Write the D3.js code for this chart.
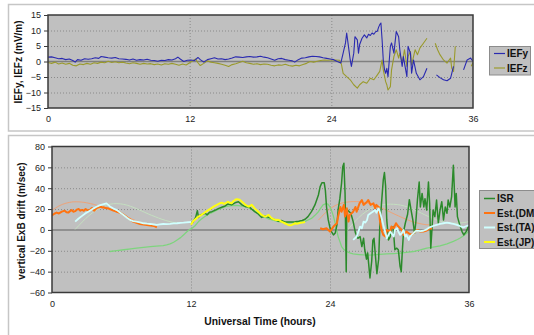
<!DOCTYPE html>
<html><head><meta charset="utf-8">
<script src="https://cdn.jsdelivr.net/npm/d3@7"></script>
<style>
html,body{margin:0;padding:0;background:#fff;}
svg{display:block;font-family:"Liberation Sans",Arial,sans-serif;}
</style></head>
<body><svg id="c" width="534" height="335"></svg>
<script>
// ---------- DATA ----------
const xTicks = [0, 12, 24, 36];
const topYTicks = [-15, -10, -5, 0, 5, 10, 15];
const botYTicks = [-60, -40, -20, 0, 20, 40, 60, 80];
const topSeriesNames = ["IEFy", "IEFz"];
const botSeriesNames = ["ISR", "Est.(DM)", "Est.(TA)", "Est.(JP)"];

// [hour, value]; null value = data gap
const IEFy = [[0,1.4],[0.3,1.5],[0.6,1.2],[0.9,0.9],[1.2,1.0],[1.5,0.6],[1.8,0.8],[2.1,0.3],[2.3,-0.2],[2.5,0.6],[2.8,0.4],[3.1,0.9],[3.4,0.7],[3.7,0.9],[4.0,1.2],[4.3,1.0],[4.5,1.6],[4.8,1.4],[5.1,1.2],[5.4,1.1],[5.7,1.3],[6.0,0.9],[6.3,0.8],[6.6,0.7],[6.9,0.5],[7.2,0.8],[7.5,0.4],[7.8,0.6],[8.1,0.5],[8.4,0.7],[8.7,0.4],[9.0,0.3],[9.3,0.1],[9.6,0.4],[9.9,0.3],[10.2,0.6],[10.5,0.5],[10.8,0.9],[11.0,1.4],[11.2,0.8],[11.5,0.0],[11.8,0.4],[12.1,0.5],[12.4,0.3],[12.7,1.3],[12.9,0.6],[13.2,-0.2],[13.5,0.6],[13.8,0.9],[14.1,1.2],[14.4,0.8],[14.7,0.9],[15.0,0.6],[15.3,0.8],[15.6,1.1],[15.9,1.5],[16.2,1.4],[16.5,1.3],[16.8,1.5],[17.1,1.6],[17.4,1.4],[17.7,1.5],[18.0,1.7],[18.3,1.4],[18.6,1.2],[18.9,0.8],[19.2,0.4],[19.5,0.9],[19.8,1.0],[20.1,0.6],[20.4,0.4],[20.7,0.2],[20.9,-0.2],[21.2,0.6],[21.5,1.1],[21.8,1.2],[22.1,1.5],[22.4,1.7],[22.7,1.6],[23.0,1.5],[23.3,1.2],[23.6,1.0],[23.9,0.8],
[24.2,0.6],[24.5,0.0],[24.8,-0.5],[25.0,2.7],[25.2,6.0],[25.3,9.2],[25.45,4.9],[25.6,0.5],[25.7,-1.6],[25.9,2.7],[26.0,8.0],[26.2,7.0],[26.3,2.7],[26.4,5.5],[26.6,7.5],[26.8,8.6],[27.0,7.6],[27.15,8.8],[27.3,8.4],[27.45,9.2],[27.6,8.8],[27.75,9.6],[27.9,9.8],[28.0,11.0],[28.1,11.9],[28.2,12.4],[28.3,7.0],[28.4,0.5],[28.5,-2.5],[28.6,-3.8],[28.7,-2.2],[28.8,-4.9],[29.0,4.9],[29.1,6.0],[29.3,2.7],[29.5,9.7],[29.7,8.0],[29.8,3.8],[30.0,-1.6],[30.1,1.6],[30.4,-4.9],[30.5,4.9],[30.7,2.7],[30.8,-3.8],[30.96,0.5],[31.2,-3.8],[31.5,-5.9],[31.8,-4.9],[32.1,-2.2],[32.2,null],[32.9,-4.3],[33.2,-5.2],[33.5,-5.9],[33.8,-6.2],[34.1,-5.4],[34.35,-1.6],[34.4,null],[35.2,-2.7],[35.5,0.5],[35.8,1.1],[36.0,0.0]];

const IEFz = [[0,-0.3],[0.3,-0.6],[0.6,-0.2],[0.9,-0.8],[1.2,-0.5],[1.5,-0.9],[1.8,-0.6],[2.1,-1.2],[2.4,-1.4],[2.7,-0.8],[3.0,-1.0],[3.3,-0.6],[3.6,-0.9],[3.9,-0.4],[4.2,-0.6],[4.5,-0.2],[4.8,-0.4],[5.1,0.1],[5.4,-0.3],[5.7,-0.1],[6.0,-0.4],[6.3,-0.2],[6.6,-0.5],[6.9,-0.7],[7.2,-0.4],[7.5,-0.6],[7.8,-0.9],[8.1,-0.6],[8.4,-0.8],[8.7,-0.7],[9.0,-1.0],[9.3,-0.8],[9.6,-1.1],[9.9,-0.7],[10.2,-0.9],[10.5,-0.6],[10.8,-0.9],[11.1,-1.2],[11.4,-0.8],[11.7,-1.1],[12.0,-0.4],[12.3,0.3],[12.5,0.8],[12.7,-0.4],[12.9,-1.3],[13.2,-0.6],[13.5,0.2],[13.8,-0.2],[14.1,-0.4],[14.4,-0.6],[14.7,-0.9],[15.0,-1.2],[15.3,-1.6],[15.6,-1.0],[15.9,-0.7],[16.2,-0.3],[16.5,0.1],[16.8,-0.4],[17.1,-0.6],[17.4,-0.9],[17.7,-0.7],[18.0,-1.0],[18.3,-0.8],[18.6,-0.9],[18.9,-1.2],[19.2,-1.4],[19.5,-1.1],[19.8,-1.2],[20.1,-0.9],[20.4,-1.3],[20.7,-1.5],[21.0,-1.2],[21.3,-1.4],[21.6,-1.0],[21.9,-0.6],[22.2,0.0],[22.5,-0.2],[22.8,0.1],[23.1,0.3],[23.4,0.5],[23.7,0.4],[24.0,0.5],
[24.3,0.5],[24.7,0.4],[24.85,-0.8],[25.0,-3.8],[25.3,-4.9],[25.6,-5.9],[25.9,-7.5],[26.2,-8.6],[26.4,-7.5],[26.7,-6.5],[27.0,-7.0],[27.3,-5.4],[27.6,-5.9],[27.9,-4.3],[28.1,-3.2],[28.3,0.5],[28.4,-2.7],[28.6,-6.5],[28.7,-7.5],[28.8,-9.2],[29.0,-8.1],[29.1,-2.7],[29.3,1.6],[29.5,3.8],[29.7,1.1],[29.8,2.7],[30.0,-0.5],[30.2,3.8],[30.4,-1.6],[30.5,1.6],[30.7,3.2],[30.8,-1.1],[31.1,3.8],[31.3,2.2],[31.5,4.3],[31.8,5.9],[32.1,7.5],[32.2,null],[32.8,5.9],[33.0,3.8],[33.2,2.2],[33.5,0.5],[33.8,-0.5],[34.1,1.1],[34.2,-2.2],[34.35,-3.2],[34.5,4.9],[34.55,null],[35.85,-1.5],[36.0,-0.3]];

const ISR = [[12.1,6.4],[12.4,12],[12.55,18.5],[12.65,12],[12.8,14.4],[13.0,15],[13.2,16],[13.4,14.5],[13.6,17],[13.8,17.5],[14.1,19],[14.4,20.7],[14.7,22],[14.95,23],[15.2,24.9],[15.5,24],[15.8,26],[16.1,27],[16.4,24],[16.7,22.3],[17.0,22.3],[17.25,19.8],[17.5,17.5],[17.8,15.3],[18.1,12],[18.4,13.4],[18.7,12],[19.0,10.8],[19.3,9.6],[19.55,8.3],[19.8,9],[20.1,7.7],[20.4,7.5],[20.7,7.7],[21.0,7.8],[21.3,8.3],[21.6,9],[21.85,10.2],[22.1,12.8],[22.4,17.5],[22.7,24],[23.0,33.5],[23.15,41.5],[23.3,45.3],[23.5,45.3],[23.6,38],[23.7,22],[23.85,9.6],[24.0,2],[24.15,-2],[24.3,-4.8],[24.45,-3],[24.6,4.8],[24.7,19],[24.85,30],[25.0,45],[25.1,60.6],[25.2,64],[25.3,35],[25.35,0],[25.4,-40],[25.45,20],[25.6,18],[25.8,16],[26.0,8],[26.2,-3],[26.4,-8],[26.6,-6.4],[26.75,-16],[26.9,-8],[27.0,-19],[27.15,-28],[27.25,-22],[27.45,-46],[27.6,-30],[27.7,-10],[27.8,-8],[27.9,-22],[28.05,-42],[28.2,-28],[28.3,3],[28.45,26],[28.6,48],[28.7,55],[28.8,42],[28.9,9.6],[29.05,-9.6],[29.2,-6.4],[29.3,1.6],[29.45,3.2],[29.6,-19],[29.75,-17.5],[29.9,-19],[30.05,-35],[30.15,-40],[30.25,-19],[30.35,-1.6],[30.5,6.4],[30.7,15],[30.85,29],[31.0,19],[31.15,9.6],[31.3,-3.2],[31.4,6.4],[31.55,29],[31.7,46],[31.8,22],[31.95,35],[32.1,22],[32.2,30],[32.35,19],[32.5,46],[32.6,25.5],[32.7,-17.5],[32.8,0],[32.9,19],[33.05,12.8],[33.2,28.7],[33.35,6.4],[33.5,19],[33.65,27],[33.8,9.6],[33.95,22],[34.1,16],[34.2,28.7],[34.35,22],[34.5,32],[34.65,62],[34.8,22],[34.9,35],[35.0,12.8],[35.2,4.8],[35.4,-1.6],[35.55,-4.8],[35.75,-1.6],[35.95,3.2],[36.0,3]];

const DM = [[0.0,14],[0.2,15.5],[0.4,16.6],[0.6,15.8],[0.85,17.5],[1.1,18.5],[1.25,17],[1.4,16.6],[1.55,18],[1.7,19],[1.85,17.5],[2.0,18],[2.15,19.5],[2.3,20],[2.45,18.5],[2.6,19.2],[2.75,18.4],[2.9,20],[3.05,19],[3.15,18.4],[3.3,19.5],[3.45,21],[3.55,19.5],[3.65,18.5],[3.8,20.5],[3.9,21.2],[4.05,21.8],[4.2,22.3],[4.35,21.5],[4.45,21.8],[4.6,21],[4.75,20.8],[4.9,20.5],[5.0,20],[5.15,19.2],[5.3,18.5],[5.45,18],[5.6,17.5],[5.75,17],[5.9,16.5],[6.05,15.5],[6.2,14.4],[6.4,12.8],[6.6,11],[6.8,9.6],[7.0,8],[7.3,6.8],[7.6,5.7],[7.9,5.2],[8.2,4.8],[8.5,4.2],[8.8,3.8],[9.05,2.5],[9.1,null],
[23.15,1.6],[23.4,0.6],[23.7,1.6],[24.0,-1.6],[24.3,3.2],[24.6,6.4],[24.7,12.8],[24.9,22],[25.0,17.5],[25.2,24],[25.3,12.8],[25.45,20.7],[25.6,8],[25.7,14.4],[26.0,17.5],[26.2,22],[26.3,17.5],[26.55,25.5],[26.75,28.7],[26.9,24],[27.2,27],[27.3,28.7],[27.5,24],[27.75,25.5],[27.9,20.7],[28.0,24],[28.2,22],[28.3,9.6],[28.45,0],[28.6,-4.8],[28.8,-6.4],[28.9,0],[29.2,-1.6],[29.3,3.2],[29.5,1.6],[29.7,6.4],[29.9,3.2],[30.05,1.6],[30.2,0],[30.35,-4.8],[30.6,-1.6],[30.8,-3.2],[31.05,-4.8],[31.35,-1.6],[31.55,0],[31.8,-1.6],[32.05,-1.6],[32.35,-0.6],[32.6,1.6],[32.8,1]];

const TA = [[2.0,8],[2.3,11],[2.6,13.5],[2.9,16],[3.2,18],[3.5,20],[3.8,22],[4.1,23.5],[4.4,24.5],[4.7,25.5],[4.85,24],[5.0,22.5],[5.3,20.5],[5.6,19],[5.9,16.5],[6.2,14],[6.5,11.5],[6.75,9.6],[7.0,8.5],[7.3,8],[7.6,7.2],[7.9,6.4],[8.2,6],[8.5,5.7],[8.8,5.2],[9.05,4.8],[9.3,5.3],[9.6,5.7],[9.9,5.5],[10.2,5.8],[10.5,6.2],[10.8,6.4],[11.1,6.8],[11.35,7],[11.6,7.3],[11.9,7.6],[12.0,7.8],[12.05,null],
[26.0,-9.6],[26.3,-6.4],[26.6,3.2],[26.75,1.6],[26.9,8],[27.05,7],[27.2,9.6],[27.3,14.4],[27.5,16],[27.7,17.5],[27.9,19],[28.0,16.5],[28.2,20.7],[28.3,17.5],[28.5,9.6],[28.6,4.8],[28.8,-3.2],[28.9,-8],[29.05,-4.8],[29.2,-1.6],[29.3,-3.2],[29.5,-6.4],[29.6,0],[29.8,1.6],[29.9,-1.6],[30.05,-4.8],[30.2,-3.2],[30.35,0],[30.5,-6.4],[30.6,-4.8],[30.8,-9.6],[30.9,-6.4],[31.15,-3.8],[31.35,-1.6],[31.5,-0.6],[31.8,-1.2],[32.05,-0.8],[32.35,0.6],[32.6,2.5],[32.9,3.8],[33.2,4.8],[33.5,5.7],[33.8,6.4],[34.1,7],[34.4,6.4],[34.65,5.7],[34.95,4.8],[35.2,3.8],[35.5,2.5],[35.8,3.8],[36.0,4.5]];

const JP = [[12.0,5],[12.2,8.5],[12.4,10.5],[12.65,12.8],[12.9,14.5],[13.1,16],[13.3,17.5],[13.5,19],[13.7,20.5],[13.95,22.3],[14.2,23.8],[14.4,25],[14.55,25.8],[14.7,26],[14.85,25],[14.95,25.5],[15.1,26.5],[15.2,27],[15.35,26],[15.5,25.5],[15.65,27.5],[15.8,28.7],[15.95,29.5],[16.1,29.3],[16.25,28.5],[16.4,27],[16.55,25.5],[16.7,24],[16.85,23],[17.0,22.3],[17.1,23],[17.25,24],[17.4,22],[17.5,20.7],[17.65,19],[17.8,17.5],[17.95,16],[18.1,14.4],[18.25,13.5],[18.4,12.8],[18.55,13.5],[18.7,14.4],[18.85,12.5],[19.0,11],[19.15,10.2],[19.3,9.6],[19.45,9.8],[19.55,9.6],[19.7,8.8],[19.8,8],[19.95,7.2],[20.1,6.4],[20.25,5.5],[20.4,4.8],[20.55,4.5],[20.7,4.8],[20.85,5.6],[21.0,6.4],[21.15,6.0],[21.3,6.4],[21.45,6.8],[21.6,7],[21.75,7.4],[21.85,7.7]];

// unlabelled model curve (light green)
const MODEL = [[5.0,-20.7],[5.6,-19.8],[6.2,-19],[6.8,-18.2],[7.3,-17.5],[7.9,-16.8],[8.5,-16],[9.0,-15.6],[9.6,-15],[9.9,-14.4],[10.2,-13.4],[10.5,-11.8],[10.8,-9.6],[11.1,-7.4],[11.35,-4.8],[11.6,-2.2],[11.9,0.6],[12.1,1.6],[12.35,4],[12.65,8],[12.9,10.5],[13.2,12.8],[13.5,15],[13.8,16.6],[14.1,18.3],[14.4,19.8],[14.7,21.2],[14.95,22.3],[15.2,22.9],[15.5,23.3],[15.8,23.5],[16.1,23.3],[16.4,22.9],[16.7,22.3],[17.0,21.2],[17.25,19.8],[17.5,18],[17.8,16],[18.1,14],[18.4,12],[18.7,10.7],[19.0,9.6],[19.3,8.7],[19.55,8],[19.8,7.4],[20.1,7],[20.4,6.9],[20.7,7],[21.0,7.1],[21.3,7.3],[21.6,7.6],[21.85,8.2],[22.1,9.5],[22.4,11],[22.7,14],[23.0,17.5],[23.2,21],[23.4,24],[23.6,25],[23.8,25],[24.0,22],[24.15,18],[24.3,13],[24.45,6.4],[24.6,-1],[24.7,-6.4],[24.85,-11],[25.0,-16],[25.2,-18.8],[25.45,-20.7],[25.7,-22],[26.0,-23],[26.5,-23.6],[26.9,-24],[27.3,-24.2],[27.75,-24],[28.3,-23.5],[28.9,-23],[29.5,-22.7],[30.05,-22.3],[30.6,-21.6],[31.2,-20.7],[31.8,-19.2],[32.35,-17.5],[32.9,-16.5],[33.5,-15.3],[34.1,-13.4],[34.65,-11],[35.0,-9.2],[35.2,-8],[35.5,-5.8],[35.8,-3.2],[36.0,-1]];

// faint fitted curves
const DMFIT = [[0.0,19],[0.3,21],[0.6,23],[0.9,24.5],[1.2,25.6],[1.5,26.4],[1.8,26.9],[2.1,27],[2.4,26.9],[2.7,26.5],[3.0,26],[3.3,25.3],[3.6,24.5],[3.9,23.5],[4.2,22.4],[4.5,21.4],[4.8,20.5],[5.1,19.4],[5.4,18],[5.7,16.6],[6.0,15],[6.3,13.5],[6.6,12],[6.9,10.4],[7.2,9],[7.5,7.8],[7.8,6.8],[8.1,6],[8.2,null],
[23.0,9.4],[23.3,13],[23.6,16.5],[23.9,19.5],[24.2,21.8],[24.5,23.6],[24.8,25],[25.1,26],[25.4,26.6],[25.7,27],[26.0,27.2],[26.3,27.2],[26.6,27],[26.9,26.5],[27.2,25.8],[27.5,25],[27.8,24],[28.1,22.7],[28.4,21.3],[28.7,19.8],[29.0,18.2],[29.3,16.6],[29.6,15],[29.9,13.5],[30.2,12],[30.5,10.6],[30.8,9.2],[31.1,8],[31.4,7],[31.7,6.2],[32.0,5.5],[32.3,5],[32.6,4.8],[32.9,4.7]];
const TAFIT = [[2.0,0.5],[2.3,4],[2.6,7.5],[2.9,10.8],[3.2,13.8],[3.5,16.5],[3.8,18.8],[4.1,20.8],[4.4,22.5],[4.7,23.8],[5.0,24.7],[5.3,25.1],[5.6,25.2],[5.9,25],[6.2,24.5],[6.5,23.7],[6.8,22.6],[7.1,21.3],[7.4,19.9],[7.7,18.4],[8.0,16.9],[8.3,15.4],[8.6,14],[8.9,12.7],[9.2,11.4],[9.5,10.2],[9.8,9.1],[10.1,8.2],[10.4,7.4],[10.7,6.8],[11.0,6.4],[11.1,null],
[25.3,-3],[25.6,1],[25.9,5],[26.2,8.6],[26.5,12],[26.8,15],[27.1,17.5],[27.4,19.6],[27.7,21.3],[28.0,22.6],[28.3,23.6],[28.6,24.3],[28.9,24.6],[29.2,24.7],[29.5,24.6],[29.8,24.3],[30.1,23.8],[30.4,23],[30.7,22],[31.0,20.7],[31.3,19.2],[31.6,17.6],[31.9,16],[32.2,14.4],[32.5,12.8],[32.8,11.4],[33.1,10],[33.4,8.8],[33.7,7.9],[34.0,7.2],[34.3,6.7],[34.6,6.4],[34.9,6.4],[35.2,6.6],[35.5,7],[35.8,7.5],[36.0,8]];

// ---------- DRAW ----------
const svg = d3.select("#c");
const PLOTBG = "#c0c0c0";

// outer frames
svg.append("rect").attr("x",8.5).attr("y",4.5).attr("width",540).attr("height",126.5)
  .attr("fill","#fff").attr("stroke","#c6c6c6").attr("stroke-width",1.5);
svg.append("rect").attr("x",8.5).attr("y",135.5).attr("width",540).attr("height",210)
  .attr("fill","#fff").attr("stroke","#c6c6c6").attr("stroke-width",1.5);

function panel(cfg){
  const x = d3.scaleLinear().domain([0,36]).range([cfg.x0, cfg.x1]);
  const y = d3.scaleLinear().domain(cfg.yDom).range([cfg.y1, cfg.y0]);
  const g = svg.append("g");
  g.append("rect").attr("x",cfg.x0).attr("y",cfg.y0).attr("width",cfg.x1-cfg.x0).attr("height",cfg.y1-cfg.y0)
    .attr("fill",PLOTBG);
  g.selectAll(".hg").data(cfg.yTicks.filter(v=>v!==0 && v!==cfg.yDom[0] && v!==cfg.yDom[1])).join("line")
    .attr("x1",cfg.x0).attr("x2",cfg.x1).attr("y1",d=>y(d)+0.5).attr("y2",d=>y(d)+0.5)
    .attr("stroke","#8a8a8a").attr("stroke-width",1).attr("stroke-dasharray","1,2");
  g.selectAll(".vg").data([12,24]).join("line")
    .attr("x1",d=>x(d)+0.5).attr("x2",d=>x(d)+0.5).attr("y1",cfg.y0).attr("y2",cfg.y1)
    .attr("stroke","#8a8a8a").attr("stroke-width",1).attr("stroke-dasharray","1,2");
  g.append("line").attr("x1",cfg.x0).attr("x2",cfg.x1).attr("y1",y(0)).attr("y2",y(0))
    .attr("stroke","#808080").attr("stroke-width",1.5);
  const cid = "clip"+cfg.id;
  svg.append("clipPath").attr("id",cid).append("rect")
    .attr("x",cfg.x0).attr("y",cfg.y0).attr("width",cfg.x1-cfg.x0).attr("height",cfg.y1-cfg.y0);
  const lg = g.append("g").attr("clip-path",`url(#${cid})`);
  const line = d3.line().defined(d=>d[1]!==null).x(d=>x(d[0])).y(d=>y(d[1]));
  cfg.series.forEach(s=>{
    lg.append("path").datum(s.data).attr("d",line).attr("fill","none")
      .attr("stroke",s.color).attr("stroke-width",s.w).attr("stroke-linejoin","round")
      .attr("stroke-opacity", s.op||1);
  });
  g.append("rect").attr("x",cfg.x0).attr("y",cfg.y0).attr("width",cfg.x1-cfg.x0).attr("height",cfg.y1-cfg.y0)
    .attr("fill","none").attr("stroke","#3a3a3a").attr("stroke-width",1.5);
  const ax = d3.axisBottom(x).tickValues(xTicks).tickSize(0).tickPadding(8).tickFormat(d3.format("d"));
  const xa = g.append("g").attr("transform",`translate(0,${cfg.y1})`).call(ax);
  const ay = d3.axisLeft(y).tickValues(cfg.yTicks).tickSize(4).tickPadding(3).tickFormat(d3.format("d"));
  const ya = g.append("g").attr("transform",`translate(${cfg.x0},0)`).call(ay);
  [xa,ya].forEach(a=>{
    a.select(".domain").remove();
    a.selectAll("line").attr("stroke","#3a3a3a");
    a.selectAll("text").attr("font-size",9).attr("fill","#222").attr("font-family","Liberation Sans, Arial, sans-serif");
  });
  return {x,y,g};
}

const topPanel = panel({id:"t", x0:48, x1:473, y0:15, y1:108, yDom:[-15,15], yTicks:topYTicks,
  series:[
    {data:IEFz, color:"#9a9a2c", w:1.1},
    {data:IEFy, color:"#2a2ab0", w:1.1}
  ]});
const botPanel = panel({id:"b", x0:52, x1:469, y0:146.5, y1:292.5, yDom:[-60,80], yTicks:botYTicks,
  series:[
    {data:DMFIT, color:"#f2a070", w:1, op:0.9},
    {data:TAFIT, color:"#c4e2c0", w:1, op:0.9},
    {data:MODEL, color:"#7ed47e", w:1.3},
    {data:ISR, color:"#2b8a2b", w:1.5},
    {data:DM, color:"#ff7310", w:2},
    {data:TA, color:"#d0ffff", w:1.8},
    {data:JP, color:"#ffff10", w:2}
  ]});

svg.append("text").attr("transform","translate(22,62) rotate(-90)").attr("text-anchor","middle")
  .attr("font-weight","bold").attr("font-size",10).attr("fill","#111").text("IEFy, IEFz (mV/m)");
svg.append("text").attr("transform","translate(25,221) rotate(-90)").attr("text-anchor","middle")
  .attr("font-weight","bold").attr("font-size",10).attr("fill","#111").text("vertical ExB drift (m/sec)");
svg.append("text").attr("x",260).attr("y",325).attr("text-anchor","middle")
  .attr("font-weight","bold").attr("font-size",10.3).attr("fill","#111").text("Universal Time (hours)");

function legend(x, y, w, h, items, x1, tx, y0, dy){
  svg.append("rect").attr("x",x).attr("y",y).attr("width",w).attr("height",h)
    .attr("fill",PLOTBG).attr("stroke","#8c8c8c").attr("stroke-width",1);
  items.forEach((it,i)=>{
    const yy = y0 + i*dy;
    svg.append("line").attr("x1",x1).attr("x2",x1+11).attr("y1",yy).attr("y2",yy)
      .attr("stroke",it.color).attr("stroke-width",it.w);
    svg.append("text").attr("x",tx).attr("y",yy).attr("dy","0.35em").attr("font-size",10)
      .attr("font-weight","bold").attr("fill","#111").text(it.name);
  });
}
legend(489.5, 46.5, 41, 28.5, [
  {name:topSeriesNames[0], color:"#2a2ab0", w:1.2},
  {name:topSeriesNames[1], color:"#9a9a2c", w:1.2}], 494, 507, 53.5, 14.5);
legend(479.5, 190.5, 70, 58, [
  {name:botSeriesNames[0], color:"#2b8a2b", w:1.5},
  {name:botSeriesNames[1], color:"#ff7310", w:2},
  {name:botSeriesNames[2], color:"#d0ffff", w:2},
  {name:botSeriesNames[3], color:"#ffff10", w:2}], 484, 497, 198.5, 14.5);
</script></body></html>
